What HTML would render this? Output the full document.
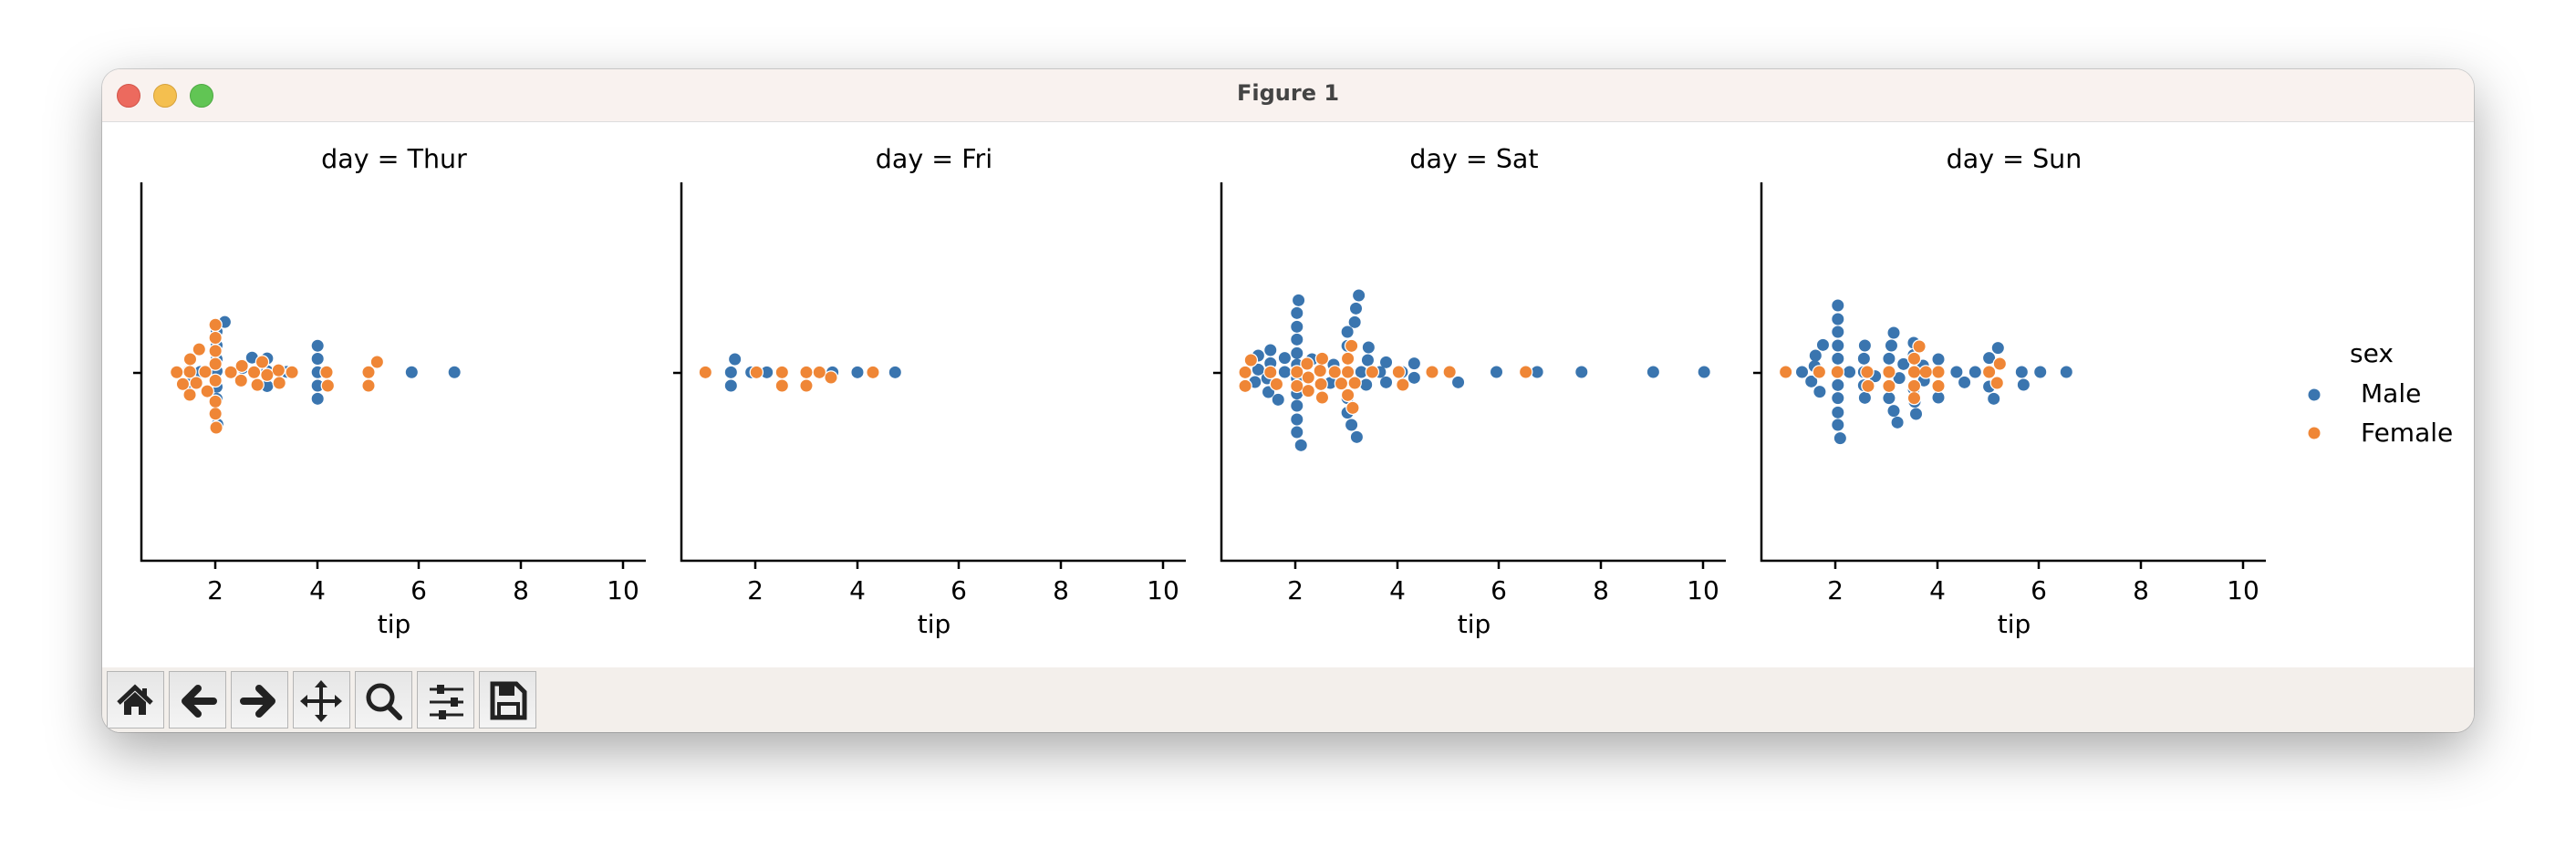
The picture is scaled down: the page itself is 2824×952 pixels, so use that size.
<!DOCTYPE html>
<html><head><meta charset="utf-8"><style>
html,body{margin:0;padding:0;background:#fff;}
body{width:2824px;height:952px;overflow:hidden;position:relative;font-family:"DejaVu Sans","Liberation Sans",sans-serif;}
.win{position:absolute;left:112px;top:76px;width:2600px;height:727px;border-radius:20px;background:#fff;box-shadow:0 20px 60px rgba(0,0,0,0.35),0 0 0 1px rgba(0,0,0,0.15);overflow:hidden;}
.tb{position:absolute;left:0;top:0;width:100%;height:57px;background:#f9f2ef;border-bottom:1px solid #ddd;}
.tl{position:absolute;top:16px;width:24px;height:24px;border-radius:50%;}
.title{position:absolute;top:12px;width:100%;text-align:center;font-weight:bold;font-size:24px;color:#444;}
.bar{position:absolute;left:0;top:656px;width:100%;height:71px;background:#f3efeb;}
.btn{position:absolute;top:4px;width:61px;height:61px;border:1px solid #b5b5b5;background:linear-gradient(#e6e6e6,#f4f4f4);}
path.d{fill:none;stroke-linecap:round;vector-effect:non-scaling-stroke;}
.w{stroke:#fff;stroke-width:15.5px;}
.b{stroke:#3a75af;stroke-width:13px;}
.o{stroke:#ef8636;stroke-width:13px;}
</style></head><body>
<div class="win">
<div class="tb">
<div class="tl" style="left:16px;background:#ec6a5e;border:1px solid #d25449"></div>
<div class="tl" style="left:56px;background:#f4bf4f;border:1px solid #d6a13b"></div>
<div class="tl" style="left:96px;background:#61c554;border:1px solid #4ea943"></div>
<div class="title">Figure 1</div>
</div>
<div class="bar">
<div class="btn" style="left:5px"><svg width="61" height="61"><path d="M12 34 L30 17 L48 34" stroke="#222" stroke-width="5" fill="none"/><path d="M18 33 L30 22 L42 33 V47 H34 V38 H26 V47 H18Z" fill="#222"/><rect x="38" y="18" width="5" height="9" fill="#222"/></svg></div>
<div class="btn" style="left:73px"><svg width="61" height="61"><path d="M48 32 H20 M31 18 L17 32 L31 46" stroke="#222" stroke-width="8" fill="none" stroke-linecap="round" stroke-linejoin="round"/></svg></div>
<div class="btn" style="left:141px"><svg width="61" height="61"><path d="M13 32 H41 M30 18 L44 32 L30 46" stroke="#222" stroke-width="8" fill="none" stroke-linecap="round" stroke-linejoin="round"/></svg></div>
<div class="btn" style="left:209px"><svg width="61" height="61"><path d="M30 12 V52 M10 32 H50" stroke="#222" stroke-width="4"/><path d="M30 9 L37 17 H23Z M30 55 L37 47 H23Z M7 32 L15 25 V39Z M53 32 L45 25 V39Z" fill="#222"/></svg></div>
<div class="btn" style="left:277px"><svg width="61" height="61"><circle cx="27" cy="28" r="13" stroke="#222" stroke-width="5" fill="none"/><path d="M36 38 L48 50" stroke="#222" stroke-width="6" stroke-linecap="round"/></svg></div>
<div class="btn" style="left:345px"><svg width="61" height="61"><path d="M13 19 H50 M13 33 H50 M13 47 H50" stroke="#222" stroke-width="3"/><rect x="21" y="14" width="8" height="10" fill="#222"/><rect x="36" y="28" width="8" height="10" fill="#222"/><rect x="23" y="42" width="8" height="10" fill="#222"/></svg></div>
<div class="btn" style="left:413px"><svg width="61" height="61"><path d="M14 13 H40 L49 22 V50 H14Z" stroke="#222" stroke-width="5" fill="none"/><rect x="21" y="13" width="17" height="13" fill="#222"/><rect x="21" y="35" width="21" height="14" stroke="#222" stroke-width="4" fill="none"/></svg></div>
</div>
</div>
<svg width="2824" height="952" style="position:absolute;left:0;top:0" font-family="DejaVu Sans, Liberation Sans, sans-serif">
<g stroke="#000" stroke-width="2.5" fill="none">
<path d="M155 200 V615 H708"/><path d="M747 200 V615 H1300"/><path d="M1339 200 V615 H1892"/><path d="M1931 200 V615 H2484"/>
<path d="M146 409 H155 M738 409 H747 M1330 409 H1339 M1922 409 H1931"/>
</g>
<g id="ticks" stroke="#000" stroke-width="2.5">
<path d="M236 615 v9 M348 615 v9 M459 615 v9 M571 615 v9 M683 615 v9"/>
</g>
<use href="#ticks" x="592"/><use href="#ticks" x="1184"/><use href="#ticks" x="1776"/>
<g id="tl" font-size="28" text-anchor="middle" fill="#000">
<text x="236" y="657">2</text><text x="348" y="657">4</text><text x="459" y="657">6</text><text x="571" y="657">8</text><text x="683" y="657">10</text>
<text x="432" y="694">tip</text>
</g>
<use href="#tl" x="592"/><use href="#tl" x="1184"/><use href="#tl" x="1776"/>
<g font-size="28.5" text-anchor="middle">
<text x="432" y="184">day = Thur</text><text x="1024" y="184">day = Fri</text><text x="1616" y="184">day = Sat</text><text x="2208" y="184">day = Sun</text>
</g>
<text x="2576" y="397" font-size="28">sex</text>
<circle cx="2537" cy="433" r="6.5" fill="#3a75af"/><circle cx="2537" cy="475" r="6.5" fill="#ef8636"/>
<text x="2588" y="441" font-size="28">Male</text>
<text x="2588" y="484" font-size="28">Female</text>

<g transform="translate(100,60) scale(0.4464,0.4337)">
<path class="d w" d="M328 676h0M308 700h0M308 735h0M308 770h0M308 800h0M308 840h0M308 870h0M310 935h0M242 772h0M240 800h0M268 802h0M242 832h0M372 792h0M395 766h0M432 768h0M432 800h0M432 838h0M480 802h0M556 736h0M556 769h0M556 803h0M556 837h0M556 870h0M787 803h0M892 803h0"/>
<path class="d b" d="M328 676h0M308 700h0M308 735h0M308 770h0M308 800h0M308 840h0M308 870h0M310 935h0M242 772h0M240 800h0M268 802h0M242 832h0M372 792h0M395 766h0M432 768h0M432 800h0M432 838h0M480 802h0M556 736h0M556 769h0M556 803h0M556 837h0M556 870h0M787 803h0M892 803h0"/>
<path class="d w" d="M305 683h0M305 716h0M305 749h0M305 782h0M305 824h0M305 877h0M305 908h0M307 943h0M210 803h0M243 770h0M242 802h0M265 745h0M225 833h0M258 830h0M242 860h0M280 802h0M285 851h0M343 803h0M370 787h0M368 824h0M400 803h0M408 835h0M420 777h0M432 810h0M460 798h0M462 830h0M493 803h0M578 803h0M581 837h0M681 803h0M681 837h0M702 777h0"/>
<path class="d o" d="M305 683h0M305 716h0M305 749h0M305 782h0M305 824h0M305 877h0M305 908h0M307 943h0M210 803h0M243 770h0M242 802h0M265 745h0M225 833h0M258 830h0M242 860h0M280 802h0M285 851h0M343 803h0M370 787h0M368 824h0M400 803h0M408 835h0M420 777h0M432 810h0M460 798h0M462 830h0M493 803h0M578 803h0M581 837h0M681 803h0M681 837h0M702 777h0"/>
</g>

<g transform="translate(740,360) scale(0.3333)">
<path class="d w" d="M197 102h0M184 145h0M184 189h0M251 145h0M302 145h0M518 145h0M600 145h0M724 145h0"/>
<path class="d b" d="M197 102h0M184 145h0M184 189h0M251 145h0M302 145h0M518 145h0M600 145h0M724 145h0"/>
<path class="d w" d="M100 145h0M268 145h0M352 145h0M352 189h0M432 145h0M432 189h0M475 145h0M513 162h0M651 145h0"/>
<path class="d o" d="M100 145h0M268 145h0M352 145h0M352 189h0M432 145h0M432 189h0M475 145h0M513 162h0M651 145h0"/>
</g>

<g transform="translate(1320,300) scale(0.4464,0.3333)">
<path class="d w" d="M232 88h0M228 130h0M228 175h0M228 217h0M228 262h0M228 300h0M228 345h0M228 395h0M228 435h0M228 480h0M228 522h0M238 565h0M380 72h0M373 115h0M370 160h0M352 192h0M352 238h0M352 280h0M352 325h0M352 410h0M352 458h0M362 498h0M375 538h0M133 270h0M163 252h0M133 316h0M163 295h0M198 278h0M198 324h0M125 357h0M155 345h0M158 390h0M182 415h0M265 282h0M318 300h0M310 360h0M404 243h0M402 285h0M386 324h0M398 366h0M447 292h0M447 358h0M432 324h0M486 324h0M486 367h0M516 296h0M516 343h0M624 358h0M718 324h0M818 324h0M927 324h0M1103 324h0M1228 324h0"/>
<path class="d b" d="M232 88h0M228 130h0M228 175h0M228 217h0M228 262h0M228 300h0M228 345h0M228 395h0M228 435h0M228 480h0M228 522h0M238 565h0M380 72h0M373 115h0M370 160h0M352 192h0M352 238h0M352 280h0M352 325h0M352 410h0M352 458h0M362 498h0M375 538h0M133 270h0M163 252h0M133 316h0M163 295h0M198 278h0M198 324h0M125 357h0M155 345h0M158 390h0M182 415h0M265 282h0M318 300h0M310 360h0M404 243h0M402 285h0M386 324h0M398 366h0M447 292h0M447 358h0M432 324h0M486 324h0M486 367h0M516 296h0M516 343h0M624 358h0M718 324h0M818 324h0M927 324h0M1103 324h0M1228 324h0"/>
<path class="d w" d="M115 285h0M101 325h0M101 370h0M163 325h0M178 364h0M228 324h0M228 370h0M253 297h0M256 342h0M256 386h0M285 320h0M287 364h0M290 280h0M290 408h0M321 324h0M337 362h0M353 280h0M353 324h0M353 400h0M362 238h0M365 442h0M370 360h0M413 324h0M478 324h0M488 366h0M560 324h0M603 324h0M790 324h0"/>
<path class="d o" d="M115 285h0M101 325h0M101 370h0M163 325h0M178 364h0M228 324h0M228 370h0M253 297h0M256 342h0M256 386h0M285 320h0M287 364h0M290 280h0M290 408h0M321 324h0M337 362h0M353 280h0M353 324h0M353 400h0M362 238h0M365 442h0M370 360h0M413 324h0M478 324h0M488 366h0M560 324h0M603 324h0M790 324h0"/>
</g>

<g transform="translate(1900,300) scale(0.5102,0.3333)">
<path class="d w" d="M225 105h0M225 150h0M225 192h0M225 237h0M225 280h0M225 324h0M225 367h0M225 410h0M225 457h0M225 498h0M230 542h0M193 235h0M177 270h0M175 305h0M148 324h0M168 355h0M186 389h0M250 324h0M283 237h0M281 280h0M281 324h0M281 368h0M283 409h0M305 338h0M345 195h0M340 237h0M335 280h0M335 324h0M335 410h0M345 452h0M353 490h0M357 344h0M366 298h0M388 228h0M388 268h0M388 324h0M388 380h0M390 422h0M393 462h0M408 303h0M410 352h0M441 282h0M441 324h0M441 408h0M480 324h0M497 358h0M520 324h0M550 278h0M550 372h0M569 245h0M560 412h0M620 324h0M624 366h0M660 324h0M716 324h0"/>
<path class="d b" d="M225 105h0M225 150h0M225 192h0M225 237h0M225 280h0M225 324h0M225 367h0M225 410h0M225 457h0M225 498h0M230 542h0M193 235h0M177 270h0M175 305h0M148 324h0M168 355h0M186 389h0M250 324h0M283 237h0M281 280h0M281 324h0M281 368h0M283 409h0M305 338h0M345 195h0M340 237h0M335 280h0M335 324h0M335 410h0M345 452h0M353 490h0M357 344h0M366 298h0M388 228h0M388 268h0M388 324h0M388 380h0M390 422h0M393 462h0M408 303h0M410 352h0M441 282h0M441 324h0M441 408h0M480 324h0M497 358h0M520 324h0M550 278h0M550 372h0M569 245h0M560 412h0M620 324h0M624 366h0M660 324h0M716 324h0"/>
<path class="d w" d="M113 324h0M185 324h0M224 324h0M288 324h0M290 370h0M335 324h0M335 370h0M400 240h0M389 280h0M389 324h0M389 370h0M389 410h0M414 324h0M441 324h0M441 370h0M550 324h0M573 297h0M567 360h0"/>
<path class="d o" d="M113 324h0M185 324h0M224 324h0M288 324h0M290 370h0M335 324h0M335 370h0M400 240h0M389 280h0M389 324h0M389 370h0M389 410h0M414 324h0M441 324h0M441 370h0M550 324h0M573 297h0M567 360h0"/>
</g>
</svg>
</body></html>
